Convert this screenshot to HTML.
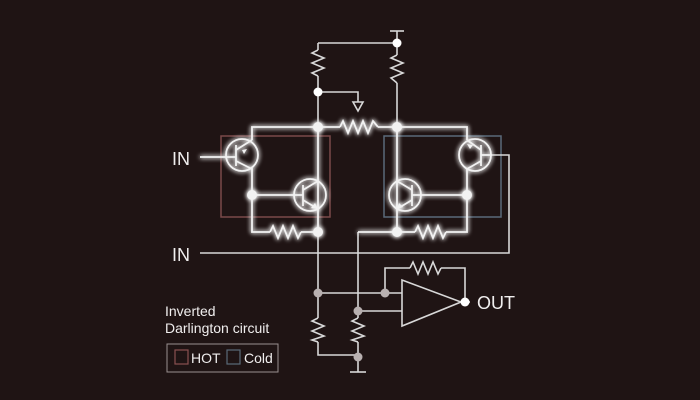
<!DOCTYPE html>
<html><head><style>
html,body{margin:0;padding:0;background:#1f1414;}
svg{display:block}
text{font-family:"Liberation Sans",sans-serif;fill:#f0eeee}
</style></head><body>
<svg width="700" height="400" viewBox="0 0 700 400" xmlns="http://www.w3.org/2000/svg">
<defs>
<filter id="g" x="-20%" y="-20%" width="140%" height="140%">
<feGaussianBlur in="SourceGraphic" stdDeviation="2.5" result="b"/>
<feMerge><feMergeNode in="b"/><feMergeNode in="b"/><feMergeNode in="SourceGraphic"/></feMerge>
</filter>
</defs>
<rect width="700" height="400" fill="#1f1414"/>
<!-- boxes -->
<rect x="221" y="136" width="109" height="81" fill="none" stroke="#7a4a4a" stroke-width="1.5"/>
<rect x="384" y="136" width="117" height="81" fill="none" stroke="#5a6a7a" stroke-width="1.5"/>
<g stroke="#d8d8d8" stroke-width="1.6" fill="none">
<!-- top supply -->
<line x1="390" y1="31" x2="404" y2="31"/>
<line x1="397" y1="31" x2="397" y2="55"/>
<polyline points="318,43 397,43"/>
<line x1="318" y1="43" x2="318" y2="50"/>
<polyline points="318,50 312,53 324,58 312,63 324,68 312,73 318,76"/>
<line x1="318" y1="76" x2="318" y2="127"/>
<polyline points="397,55 391,58 403,63 391,68 403,73 391,78 397,83"/>
<line x1="397" y1="83" x2="397" y2="127"/>
<polyline points="318,92 358,92 358,102"/>
<polygon points="353,102 363,102 358,111"/>
<!-- lower opamp section -->
<line x1="318" y1="232" x2="318" y2="318"/>
<polyline points="318,318 312,321 324,326 312,331 324,336 312,340 318,342"/>
<polyline points="318,342 318,355 358,355"/>
<line x1="358" y1="232" x2="358" y2="318"/>
<polyline points="358,318 352,321 364,326 352,331 364,336 352,340 358,342"/>
<line x1="358" y1="342" x2="358" y2="372"/>
<line x1="350" y1="372" x2="366" y2="372"/>
<polyline points="318,293 402,293"/>
<polyline points="358,311 402,311"/>
<polygon points="402,280 402,326 461,302"/>
<line x1="461" y1="302" x2="470" y2="302"/>
<polyline points="385,293 385,268 410,268"/>
<polyline points="410,268 413,262 418,274 423,262 428,274 433,262 438,274 441,268"/>
<polyline points="441,268 465,268 465,302"/>
<polyline points="200,253 509,253 509,155 492,155"/>
</g>
<g fill="#b8b0b0">
<circle cx="318" cy="293" r="4.5"/><circle cx="385" cy="293" r="4.5"/>
<circle cx="358" cy="311" r="4.5"/><circle cx="358" cy="357" r="4.5"/>
<circle cx="465" cy="302" r="4.5" fill="#fff"/>
<circle cx="397" cy="43" r="4.5" fill="#fff"/><circle cx="318" cy="92" r="4.5" fill="#fff"/>
</g>
<!-- glowing upper circuit -->
<g filter="url(#g)" stroke="#f2f2f2" stroke-width="1.8" fill="none">
<polyline points="252,140 252,127 340,127"/>
<polyline points="340,127 343,121 348,133 353,121 358,133 363,121 368,133 373,121 378,127"/>
<polyline points="378,127 467,127 467,140"/>
<line x1="318" y1="127" x2="318" y2="232"/>
<line x1="397" y1="127" x2="397" y2="232"/>
<polyline points="252,168 252,232 270,232"/>
<polyline points="270,232 273,226 278,238 283,226 288,238 293,226 298,238 301,232"/>
<line x1="301" y1="232" x2="318" y2="232"/>
<polyline points="358,232 397,232 415,232"/>
<polyline points="415,232 418,226 423,238 428,226 433,238 438,226 443,238 446,232"/>
<polyline points="446,232 467,232 467,168"/>
<line x1="252" y1="195" x2="303" y2="195"/>
<line x1="412" y1="195" x2="467" y2="195"/>
<line x1="200" y1="157" x2="236" y2="157"/>
<!-- Q1 -->
<circle cx="242" cy="155" r="16"/>
<line x1="236" y1="145" x2="236" y2="166"/>
<line x1="236" y1="150" x2="252" y2="140"/>
<line x1="236" y1="161" x2="252" y2="169"/>
<!-- Q2 -->
<circle cx="310" cy="195" r="16"/>
<line x1="303" y1="185" x2="303" y2="206"/>
<line x1="303" y1="190" x2="318" y2="181"/>
<line x1="303" y1="200" x2="318" y2="209"/>
<!-- Q3 -->
<circle cx="405" cy="195" r="16"/>
<line x1="412" y1="185" x2="412" y2="206"/>
<line x1="412" y1="190" x2="397" y2="181"/>
<line x1="412" y1="200" x2="397" y2="209"/>
<!-- Q4 -->
<circle cx="475" cy="155" r="16"/>
<line x1="481" y1="145" x2="481" y2="166"/>
<line x1="481" y1="150" x2="467" y2="140"/>
<line x1="481" y1="161" x2="467" y2="169"/>
<line x1="481" y1="155" x2="492" y2="155"/>
</g>
<g fill="#f2f2f2" filter="url(#g)">
<circle cx="318" cy="127" r="5"/><circle cx="397" cy="127" r="5"/>
<circle cx="252" cy="195" r="5"/><circle cx="467" cy="195" r="5"/>
<circle cx="318" cy="232" r="5"/><circle cx="397" cy="232" r="5"/>
<polygon points="242,150 247,149 244,154"/>
<polygon points="318,209 311,208 315,203"/>
<polygon points="397,209 399,203 403,207"/>
<polygon points="473,145 467,144 470,149"/>
</g>
<text x="172" y="165" font-size="18">IN</text>
<text x="172" y="261" font-size="18">IN</text>
<text x="477" y="309" font-size="18">OUT</text>
<text x="165" y="316" font-size="14">Inverted</text>
<text x="165" y="333" font-size="14">Darlington circuit</text>
<rect x="167" y="344" width="111" height="28" fill="none" stroke="#9a9090" stroke-width="1"/>
<rect x="175" y="350" width="13" height="14" fill="none" stroke="#8a5050" stroke-width="1.2"/>
<text x="191" y="363" font-size="14">HOT</text>
<rect x="227" y="350" width="13" height="14" fill="none" stroke="#5a6a78" stroke-width="1.2"/>
<text x="244" y="363" font-size="14">Cold</text>
</svg>
</body></html>
